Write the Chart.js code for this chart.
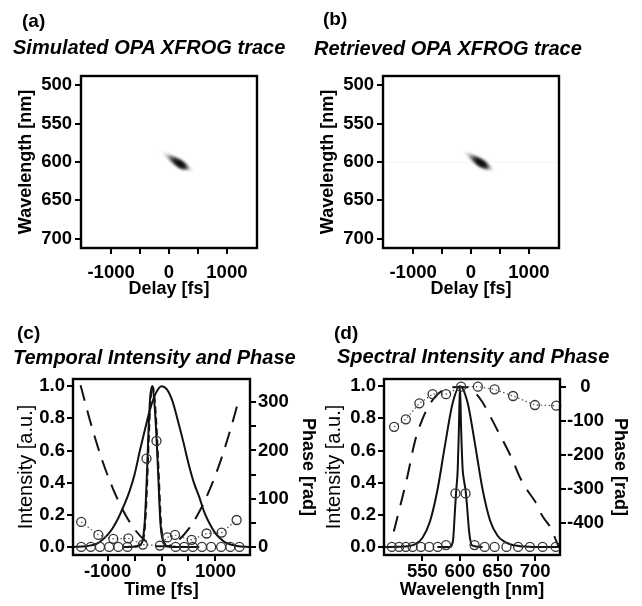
<!DOCTYPE html>
<html>
<head>
<meta charset="utf-8">
<script src="https://cdn.jsdelivr.net/npm/chart.js@4.4.1/dist/chart.umd.min.js"></script>
<style>
  body { margin: 0; background: #fff; }
  #wrap { position: relative; width: 642px; height: 606px; background: #fff; font-family: "Liberation Sans", Arial, sans-serif; overflow: hidden; }
  canvas { position: absolute; }
  .lab { position: absolute; font-weight: bold; font-size: 19px; line-height: 20px; color: #000; white-space: nowrap; }
  .ttl { font-size: 20px; font-style: italic; }
</style>
</head>
<body>
<div id="wrap">
  <canvas id="ca" width="321" height="300" style="left:0;top:0"></canvas>
  <canvas id="cb" width="321" height="300" style="left:302px;top:0"></canvas>
  <canvas id="cc" width="321" height="306" style="left:0;top:300px"></canvas>
  <canvas id="cd" width="331" height="306" style="left:311px;top:300px"></canvas>
  <div class="lab" style="left:22px;top:11px">(a)</div>
  <div class="lab ttl" style="left:13px;top:37px">Simulated OPA XFROG trace</div>
  <div class="lab" style="left:323px;top:9px">(b)</div>
  <div class="lab ttl" style="left:314px;top:38px">Retrieved OPA XFROG trace</div>
  <div class="lab" style="left:17px;top:323px">(c)</div>
  <div class="lab ttl" style="left:13px;top:347px">Temporal Intensity and Phase</div>
  <div class="lab" style="left:334px;top:323px">(d)</div>
  <div class="lab ttl" style="left:337px;top:346px">Spectral Intensity and Phase</div>
</div>
<script>
// ---- (a)/(b) XFROG traces: the blob, sampled along its long axis
var blobDelayA = [-120, -80, -40, 0, 40, 80, 120, 160, 200, 240, 280, 320, 360, 400];
var blobWaveA  = [587, 589, 591, 593, 595, 597, 599, 601, 603, 605, 606.5, 608, 609.5, 611];
var blobLevelA = [0.06, 0.12, 0.22, 0.36, 0.52, 0.68, 0.84, 0.95, 1.0, 0.88, 0.6, 0.35, 0.16, 0.06];

var blobDelayB = [-115, -75, -35, 5, 45, 85, 125, 165, 205, 245, 285, 325, 375];
var blobWaveB  = [587, 589, 591, 593, 595, 597, 599, 601, 603, 605, 606.5, 608, 610];
var blobLevelB = [0.07, 0.14, 0.26, 0.42, 0.58, 0.76, 0.92, 1.0, 0.94, 0.78, 0.5, 0.26, 0.08];

// faint horizontal streak in the retrieved trace
var streakDelay = [-1520, 1520];
var streakWave  = [600, 600];

var delayTicks = [-1000, -500, 0, 500, 1000];
var waveTicks  = [500, 550, 600, 650, 700];

// ---- (c) temporal intensity and phase
var wideTime = [-1640, -1400, -1200, -1000, -900, -800, -700, -600, -500, -400, -300, -200, -100, 0,
                100, 200, 300, 400, 500, 600, 700, 800, 900, 1000, 1100, 1200, 1400, 1640];
var wideInt  = [0, 0.005, 0.02, 0.075, 0.12, 0.18, 0.255, 0.34, 0.45, 0.6, 0.74, 0.87, 0.96, 1.0,
                0.98, 0.91, 0.79, 0.66, 0.52, 0.4, 0.31, 0.21, 0.14, 0.085, 0.05, 0.025, 0.006, 0];

var narrowTime = [-700, -450, -390, -350, -310, -270, -240, -210, -175, -140, -100, -60, -20, 25, 70, 150, 700];
var narrowInt  = [0, 0.005, 0.015, 0.04, 0.16, 0.45, 0.73, 0.93, 1.0, 0.93, 0.73, 0.44, 0.15, 0.04, 0.012, 0.002, 0];

var retrTime = [-700, -440, -380, -340, -300, -260, -230, -200, -165, -130, -90, -50, -10, 35, 80, 160, 700];
var retrInt  = [0, 0.005, 0.015, 0.04, 0.16, 0.45, 0.73, 0.93, 1.0, 0.93, 0.73, 0.44, 0.15, 0.04, 0.012, 0.002, 0];

var phaseTime = [-1500, -1300, -1100, -900, -700, -500, -300, -100, 100, 300, 500, 700, 900, 1100, 1300, 1400];
var phaseVal  = [335, 252, 180, 121, 73, 37, 13, 1.5, 1.5, 13, 37, 73, 121, 180, 252, 292];

var markTime = [-1487, -1310, -1140, -970, -800, -630, -278, -93, 262, 420, 580, 750, 920, 1105, 1275, 1444];
var markInt  = [0, 0, 0, 0, 0, 0, 0.55, 0.66, 0, 0, 0, 0, 0, 0, 0, 0];

var markPhTime = [-1487, -1170, -893, -615, -346, -30, 108, 250, 559, 836, 1114, 1392];
var markPh     = [52, 25, 17, 18, 5, 3, 20, 25, 15, 28, 30, 56];

var timeTicks  = [-1000, -500, 0, 500, 1000];
var intTicks   = [0, 0.2, 0.4, 0.6, 0.8, 1.0];
var phaseTicksC = [0, 50, 100, 150, 200, 250, 300];

// ---- (d) spectral intensity and phase
var wideWl   = [500, 520, 530, 540, 550, 560, 570, 580, 590, 600, 610, 620, 630, 640, 650, 660, 670, 680, 690, 700, 735];
var wideSpec = [0, 0.001, 0.004, 0.016, 0.056, 0.157, 0.353, 0.63, 0.89, 1.0, 0.9, 0.64, 0.36, 0.165, 0.07, 0.03, 0.012, 0.005, 0.002, 0, 0];

var narrowWl   = [570, 587, 589, 591, 593, 595, 597, 598.5, 600, 601.5, 603.5, 605.5, 607.5, 609.5, 611.5, 613.5, 616, 630];
var narrowSpec = [0, 0, 0.01, 0.05, 0.2, 0.35, 0.48, 0.72, 1.0, 0.74, 0.49, 0.41, 0.35, 0.25, 0.13, 0.05, 0.01, 0];

var specPhWl  = [512, 520, 530, 540, 550, 560, 570, 580, 590, 600, 610, 620, 630, 640, 650, 660, 670, 680, 690, 700, 710, 720, 731];
var specPhVal = [-425, -355, -264, -161, -95, -50, -22, -7, -1, 0, -1, -16, -45, -85, -128, -170, -215, -267, -305, -337, -381, -412, -469];

var markWl   = [509.4, 519.1, 528.1, 537, 548.1, 559.2, 570.4, 581.5, 594, 607.4, 619.4, 632.8, 646.1, 661.8, 677.3, 693, 709.9, 727.3];
var markSpec = [0, 0, 0, 0, 0, 0, 0, 0.012, 0.333, 0.333, 0.012, 0, 0, 0, 0, 0, 0, 0];

var markPhWl = [512.4, 528, 546, 563.6, 581.5, 601.5, 623.8, 646, 670.6, 699.6, 728];
var markSpPh = [-117, -95, -48, -21, -21, 1, 1, -7, -26.5, -53, -55];

var wlTicks     = [550, 600, 650, 700];
var phaseTicksD = [0, -100, -200, -300, -400];

// ---------------------------------------------------------------
var FONT = '"Liberation Sans", Arial, sans-serif';
var tickFont = { family: FONT, size: 18.5, weight: 'bold', lineHeight: 1.2 };
var axisFont = { family: FONT, size: 18, weight: 'bold', lineHeight: 1.2 };
var intFont  = { family: FONT, size: 20, weight: 'normal', lineHeight: 1.2 };

function pts(xs, ys) {
  return xs.map(function (x, i) { return { x: x, y: ys[i] }; });
}

function tickGrid() {
  return { drawOnChartArea: false, drawTicks: true, tickLength: 6, color: '#000', lineWidth: 2 };
}

function fixedTicks(list) {
  return function (scale) {
    scale.ticks = list.map(function (v) { return { value: v }; });
  };
}

// box around the plot area
var frame = {
  id: 'frame',
  afterDatasetsDraw: function (chart) {
    var ctx = chart.ctx, a = chart.chartArea;
    ctx.save();
    ctx.strokeStyle = '#000';
    ctx.lineWidth = 2.4;
    ctx.strokeRect(a.left, a.top, a.right - a.left, a.bottom - a.top);
    ctx.restore();
  }
};

// soft edges for the trace blob
var soften = {
  id: 'soften',
  beforeDatasetDraw: function (chart, args) {
    var px = chart.data.datasets[args.index].blur;
    if (px) { chart.ctx.save(); chart.ctx.filter = 'blur(' + px + 'px)'; }
  },
  afterDatasetDraw: function (chart, args) {
    if (chart.data.datasets[args.index].blur) chart.ctx.restore();
  }
};

var common = {
  responsive: false,
  animation: false,
  devicePixelRatio: 1,
  plugins: { legend: { display: false }, tooltip: { enabled: false } }
};

function blobSet(d, w, lv) {
  return {
    data: pts(d, w),
    showLine: false,
    blur: 1.5,
    pointRadius: function (c) { return 1.4 + 2.2 * lv[c.dataIndex]; },
    pointBorderWidth: 0,
    pointBackgroundColor: function (c) { return 'rgba(0,0,0,' + (0.85 * lv[c.dataIndex]) + ')'; }
  };
}

function traceChart(id, sets) {
  return new Chart(document.getElementById(id), {
    type: 'scatter',
    data: { datasets: sets },
    options: Object.assign({}, common, {
      layout: { padding: { top: 76, right: 64, bottom: 0, left: 0 } },
      scales: {
        x: {
          type: 'linear', min: -1520, max: 1520,
          afterFit: function (s) { s.height = 52; },
          afterBuildTicks: fixedTicks(delayTicks),
          ticks: { autoSkip: false, maxRotation: 0, font: tickFont, color: '#000', padding: 8,
                   callback: function (v) { return v % 1000 === 0 ? String(v) : ''; } },
          grid: tickGrid(), border: { display: false },
          title: { display: true, text: 'Delay [fs]', font: axisFont, color: '#000', padding: { top: 0, bottom: 0 } }
        },
        y: {
          type: 'linear', min: 488, max: 712, reverse: true,
          afterFit: function (s) { s.width = 81; },
          afterBuildTicks: fixedTicks(waveTicks),
          ticks: { autoSkip: false, font: tickFont, color: '#000', padding: 3,
                   callback: function (v) { return String(v); } },
          grid: tickGrid(), border: { display: false },
          title: { display: true, text: 'Wavelength [nm]', font: axisFont, color: '#000', padding: { top: 15, bottom: 0 } }
        }
      }
    }),
    plugins: [soften, frame]
  });
}

traceChart('ca', [blobSet(blobDelayA, blobWaveA, blobLevelA)]);
traceChart('cb', [
  blobSet(blobDelayB, blobWaveB, blobLevelB),
  { data: pts(streakDelay, streakWave), showLine: true, pointRadius: 0, borderColor: 'rgba(0,0,0,0.025)', borderWidth: 2 }
]);

function lineSet(xs, ys, axis, dash, width) {
  return {
    data: pts(xs, ys), yAxisID: axis, showLine: true, pointRadius: 0,
    borderColor: '#111', borderWidth: width || 2, borderDash: dash || [],
    cubicInterpolationMode: 'monotone'
  };
}

function markSet(xs, ys, axis, joined) {
  return {
    data: pts(xs, ys), yAxisID: axis, showLine: joined,
    borderColor: '#555', borderWidth: 1.2, borderDash: [1.5, 2.5],
    pointRadius: 4.5, pointBorderWidth: 1.3, pointBorderColor: '#333',
    pointBackgroundColor: 'rgba(0,0,0,0)', clip: 6
  };
}

function pulseChart(id, o) {
  return new Chart(document.getElementById(id), {
    type: 'scatter',
    data: { datasets: o.sets },
    options: Object.assign({}, common, {
      layout: { padding: { top: 79, right: 0, bottom: 0, left: 0 } },
      scales: {
        x: {
          type: 'linear', min: o.xMin, max: o.xMax,
          afterFit: function (s) { s.height = 51; },
          afterBuildTicks: fixedTicks(o.xTicks),
          ticks: { autoSkip: false, maxRotation: 0, font: tickFont, color: '#000', padding: 0,
                   callback: o.xLabel },
          grid: tickGrid(), border: { display: false },
          title: { display: true, text: o.xTitle, font: axisFont, color: '#000', padding: { top: 0, bottom: 5 } }
        },
        y: {
          type: 'linear', min: -0.05, max: 1.045,
          afterFit: function (s) { s.width = 73; },
          afterBuildTicks: fixedTicks(intTicks),
          ticks: { autoSkip: false, font: tickFont, color: '#000', padding: 2,
                   callback: function (v) { return v.toFixed(1); } },
          grid: tickGrid(), border: { display: false },
          title: { display: true, text: 'Intensity [a.u.]', font: intFont, color: '#000', padding: { top: o.yTitlePad, bottom: 0 } }
        },
        y2: {
          type: 'linear', position: 'right', min: o.pMin, max: o.pMax,
          afterFit: function (s) { s.width = o.rightWidth; },
          afterBuildTicks: fixedTicks(o.pTicks),
          ticks: { autoSkip: false, font: tickFont, color: '#000', padding: o.pPad, crossAlign: o.pAlign,
                   callback: function (v) { return v % 100 === 0 ? String(v) : ''; } },
          grid: tickGrid(), border: { display: false },
          title: { display: true, text: 'Phase [rad]', font: axisFont, color: '#000', padding: { top: o.pTitlePad, bottom: 0 } }
        }
      }
    }),
    plugins: [frame]
  });
}

pulseChart('cc', {
  xMin: -1640, xMax: 1640, xTicks: timeTicks, xTitle: 'Time [fs]',
  xLabel: function (v) { return v % 1000 === 0 ? String(v) : ''; },
  pMin: -16.5, pMax: 348, pTicks: phaseTicksC, pPad: 2, pAlign: 'near',
  rightWidth: 71, yTitlePad: 14, pTitlePad: 2,
  sets: [
    markSet(markPhTime, markPh, 'y2', true),
    markSet(markTime, markInt, 'y', false),
    lineSet(retrTime, retrInt, 'y', [7, 4]),
    lineSet(narrowTime, narrowInt, 'y'),
    lineSet(wideTime, wideInt, 'y'),
    lineSet(phaseTime, phaseVal, 'y2', [16, 10])
  ]
});

pulseChart('cd', {
  xMin: 499, xMax: 733, xTicks: wlTicks, xTitle: 'Wavelength [nm]',
  xLabel: function (v) { return String(v); },
  pMin: -494, pMax: 23.5, pTicks: phaseTicksD, pPad: 1, pAlign: 'center',
  rightWidth: 82, yTitlePad: 11, pTitlePad: 11,
  sets: [
    markSet(markPhWl, markSpPh, 'y2', true),
    markSet(markWl, markSpec, 'y', false),
    lineSet(narrowWl, narrowSpec, 'y'),
    lineSet(wideWl, wideSpec, 'y'),
    lineSet(specPhWl, specPhVal, 'y2', [16, 11])
  ]
});
</script>
</body>
</html>
